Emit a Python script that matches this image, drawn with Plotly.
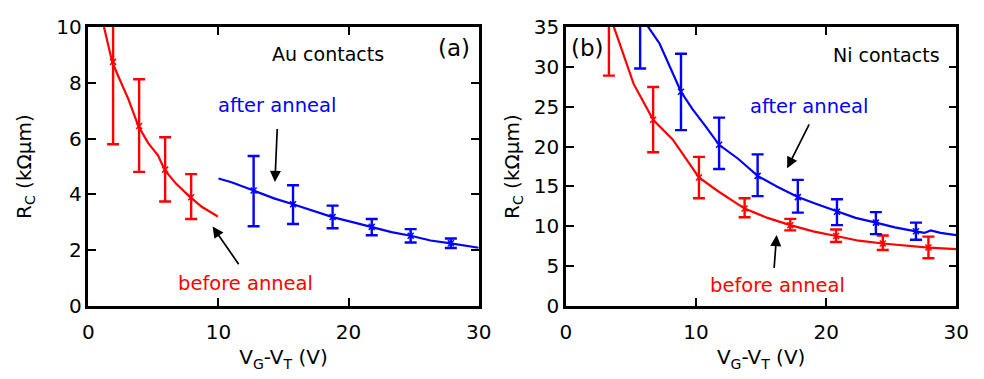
import plotly.graph_objects as go

# ---------------- Panel (a): Au contacts ----------------
au_before_curve_x = [1.2, 1.83, 2.34, 3.09, 3.84, 4.6, 5.35, 5.85, 6.73, 7.74, 8.74, 9.95]
au_before_curve_y = [10.0, 8.75, 8.19, 7.4, 6.45, 5.84, 5.4, 4.89, 4.39, 3.94, 3.55, 3.21]
au_before_pts_x = [1.9, 3.9, 5.9, 7.9]
au_before_pts_y = [8.75, 6.45, 4.89, 3.9]
au_before_err_up = [3.0, 1.68, 1.16, 0.83]
au_before_err_dn = [2.95, 1.64, 1.14, 0.78]

au_after_curve_x = [10.0, 11.0, 12.7, 14.27, 15.73, 17.28, 18.77, 20.3, 21.78, 23.3, 24.77, 26.3, 27.86, 30.0]
au_after_curve_y = [4.57, 4.44, 4.14, 3.86, 3.65, 3.41, 3.19, 3.01, 2.84, 2.65, 2.52, 2.35, 2.25, 2.09]
au_after_pts_x = [12.7, 15.73, 18.77, 21.78, 24.77, 27.86]
au_after_pts_y = [4.14, 3.65, 3.19, 2.84, 2.52, 2.25]
au_after_err_up = [1.24, 0.68, 0.41, 0.28, 0.24, 0.17]
au_after_err_dn = [1.28, 0.71, 0.40, 0.30, 0.24, 0.17]

# ---------------- Panel (b): Ni contacts ----------------
ni_before_curve_x = [3.3, 3.69, 5.2, 6.7, 8.2, 10.22, 11.72, 13.73, 15.49, 17.24, 19.0, 20.76, 22.5, 24.35, 26.0, 27.86, 30.0]
ni_before_curve_y = [36.8, 35.0, 27.86, 23.36, 20.9, 16.13, 14.37, 12.23, 11.06, 10.15, 9.38, 8.79, 8.2, 7.85, 7.62, 7.34, 7.15]
ni_before_pts_x = [3.3, 6.7, 10.22, 13.73, 17.24, 20.76, 24.35, 27.86]
ni_before_pts_y = [36.8, 23.36, 16.13, 12.23, 10.15, 8.79, 7.85, 7.34]
ni_before_err_up = [7.9, 4.11, 2.58, 1.29, 0.79, 0.82, 1.01, 1.37]
ni_before_err_dn = [7.9, 4.06, 2.61, 1.09, 0.65, 0.75, 0.82, 1.33]

ni_after_curve_x = [5.7, 6.33, 7.2, 8.84, 9.71, 10.72, 11.77, 13.23, 14.73, 16.24, 17.82, 19.25, 20.83,
                    22.26, 23.82, 25.28, 26.9, 27.54, 28.04, 28.79, 30.0]
ni_after_curve_y = [36.5, 35.0, 32.9, 26.88, 24.73, 22.58, 20.23, 18.48, 16.33, 14.96, 13.67, 12.81, 11.84,
                    11.06, 10.47, 9.88, 9.38, 9.18, 9.5, 9.18, 8.91]
ni_after_pts_x = [5.7, 8.84, 11.77, 14.73, 17.82, 20.83, 23.82, 26.9]
ni_after_pts_y = [36.5, 26.88, 20.23, 16.33, 13.67, 11.84, 10.47, 9.38]
ni_after_err_up = [6.7, 4.77, 3.4, 2.7, 2.16, 1.56, 1.32, 1.09]
ni_after_err_dn = [6.7, 4.81, 3.04, 2.54, 1.95, 1.69, 1.44, 1.06]

x_ticks = [0, 10, 20, 30]
au_y_ticks = [0, 2, 4, 6, 8, 10]
ni_y_ticks = [0, 5, 10, 15, 20, 25, 30, 35]

RED = "#ff0000"
BLUE = "#0000ff"
FONT = "DejaVu Sans"

fig = go.Figure()


def add_series(cx, cy, px, py, up, dn, color, xa, ya):
    fig.add_trace(go.Scatter(x=cx, y=cy, mode="lines", line=dict(color=color, width=2.2),
                             xaxis=xa, yaxis=ya, showlegend=False, hoverinfo="skip"))
    fig.add_trace(go.Scatter(x=px, y=py, mode="markers",
                             marker=dict(symbol="x-thin", size=6, color=color,
                                         line=dict(color=color, width=1.5)),
                             error_y=dict(type="data", array=up, arrayminus=dn, symmetric=False,
                                          color=color, thickness=2.4, width=6),
                             xaxis=xa, yaxis=ya, showlegend=False))


add_series(au_before_curve_x, au_before_curve_y, au_before_pts_x, au_before_pts_y,
           au_before_err_up, au_before_err_dn, RED, "x", "y")
add_series(au_after_curve_x, au_after_curve_y, au_after_pts_x, au_after_pts_y,
           au_after_err_up, au_after_err_dn, BLUE, "x", "y")
add_series(ni_before_curve_x, ni_before_curve_y, ni_before_pts_x, ni_before_pts_y,
           ni_before_err_up, ni_before_err_dn, RED, "x2", "y2")
add_series(ni_after_curve_x, ni_after_curve_y, ni_after_pts_x, ni_after_pts_y,
           ni_after_err_up, ni_after_err_dn, BLUE, "x2", "y2")

axis_common = dict(showgrid=False, zeroline=False, showline=True, linecolor="black", linewidth=2.5,
                   mirror="ticks", ticks="inside", ticklen=8, tickwidth=2, tickcolor="black",
                   tickfont=dict(family=FONT, size=20, color="black"))


def x_title():
    return dict(text="V<sub>G</sub>-V<sub>T</sub> (V)",
                font=dict(family=FONT, size=20, color="black"), standoff=8)


def y_title(standoff):
    return dict(text="R<sub>C</sub> (kΩμm)",
                font=dict(family=FONT, size=20, color="black"), standoff=standoff)


fig.update_layout(
    width=984, height=379,
    margin=dict(l=0, r=0, t=0, b=0),
    paper_bgcolor="white", plot_bgcolor="white",
    xaxis=dict(domain=[84 / 984, 482 / 984], range=[0, 30], tickvals=x_ticks, title=x_title(),
               anchor="y", ticklabelstandoff=6, **axis_common),
    yaxis=dict(domain=[65 / 379, 363 / 379], range=[0, 10], tickvals=au_y_ticks, title=y_title(20),
               anchor="x", **axis_common),
    xaxis2=dict(domain=[571 / 984, 969 / 984], range=[0, 30], tickvals=x_ticks, title=x_title(),
                anchor="y2", ticklabelstandoff=6, **axis_common),
    yaxis2=dict(domain=[65 / 379, 363 / 379], range=[0, 35], tickvals=ni_y_ticks, title=y_title(9),
                anchor="x2", **axis_common),
)


def label(text, x, y, color, xref, yref, size=19.5):
    fig.add_annotation(text=text, x=x, y=y, xref=xref, yref=yref, showarrow=False,
                       font=dict(family=FONT, size=size, color=color))


def arrow(x0, y0, x1, y1, xref, yref):
    fig.add_annotation(x=x1, y=y1, ax=x0, ay=y0, xref=xref, yref=yref, axref=xref, ayref=yref,
                       text="", showarrow=True, arrowhead=2, arrowsize=1.3, arrowwidth=1.7,
                       arrowcolor="black")


# Panel (a) labels
label("Au contacts", 18.4, 9.03, "black", "x", "y", 19)
label("(a)", 28.1, 9.26, "black", "x", "y", 23)
label("after anneal", 14.47, 7.2, BLUE, "x", "y")
arrow(14.52, 6.4, 14.34, 4.45, "x", "y")
label("before anneal", 12.06, 0.8, RED, "x", "y")
arrow(11.63, 1.45, 9.55, 2.85, "x", "y")

# Panel (b) labels
label("(b)", 1.68, 32.35, "black", "x2", "y2", 23)
label("Ni contacts", 24.6, 31.5, "black", "x2", "y2", 19)
label("after anneal", 18.67, 25.0, BLUE, "x2", "y2")
arrow(18.75, 22.98, 17.0, 17.3, "x2", "y2")
label("before anneal", 16.29, 2.58, RED, "x2", "y2")
arrow(15.99, 4.6, 16.19, 8.91, "x2", "y2")

fig.write_html("out.html")
